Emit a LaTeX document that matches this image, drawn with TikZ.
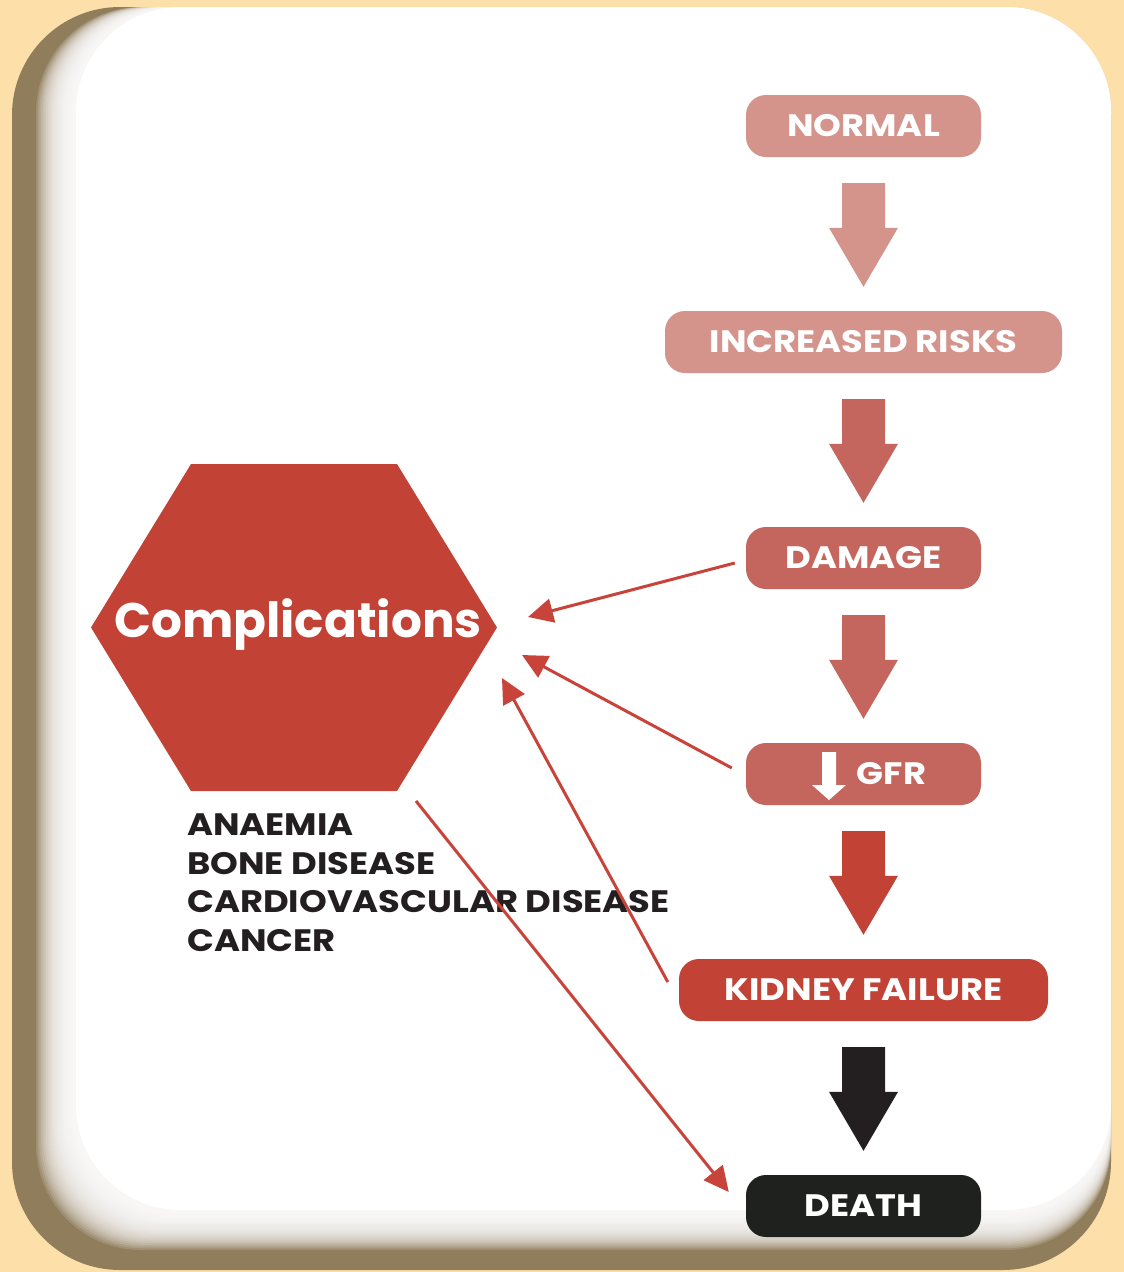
\documentclass[tikz,border=0pt]{standalone}
\usepackage{fontspec}
\setmainfont{Poppins}
\newfontfamily\widefont{Poppins}[FakeStretch=1.14]
\usetikzlibrary{arrows.meta,calc}
\definecolor{peach}{HTML}{FDE0A9}
\definecolor{shadowbrown}{HTML}{907D5B}
\definecolor{cA}{HTML}{D4938B}
\definecolor{cB}{HTML}{C4665D}
\definecolor{cRed}{HTML}{C24236}
\definecolor{cBlack}{HTML}{1F211E}
\definecolor{cArrowBlack}{HTML}{231F20}
\definecolor{cConn}{HTML}{C8443A}
\definecolor{cText}{HTML}{231F20}
\tikzset{
  stagebox/.style={rounded corners=20, minimum height=62, text=white,
    font=\widefont\bfseries\fontsize{31}{31}\selectfont, inner sep=0, anchor=center},
  conn/.style={cConn, line width=3, -{Triangle[length=25pt,width=24pt]}},
}
\newcommand\bigarrow[3]{%
  \fill[#3] ($(#1.south)+(-21.5,26)$) -- ($(#1.south)+(21.5,26)$) --
    ($(#2.north)+(21.5,-83)$) -- ($(#2.north)+(34.5,-83)$) --
    ($(#2.north)+(0,-24)$) -- ($(#2.north)+(-34.5,-83)$) --
    ($(#2.north)+(-21.5,-83)$) -- cycle;}
\begin{document}
\begin{tikzpicture}[x=1pt,y=-1pt]
\useasboundingbox (0,0) rectangle (1124,1272);
\fill[peach] (0,0) rectangle (1124,1272);
\fill[shadowbrown, rounded corners=108] (12,7) rectangle (1111,1270);
\foreach \i in {0,...,21}{
  \fill[white, opacity=0.14, rounded corners=105] ({36+1.7*\i},7) rectangle (1111,{1250-1.7*\i});
}
\fill[white, rounded corners=105] (76,7) rectangle (1111,1210);

% stage boxes
\node[stagebox, fill=cA, minimum width=235] (normal) at (863.5,126) {NORMAL};
\node[stagebox, fill=cA, minimum width=397] (risk) at (863.5,342) {INCREASED RISKS};
\node[stagebox, fill=cB, minimum width=235] (damage) at (863.5,558) {DAMAGE};
\node[stagebox, fill=cB, minimum width=235] (gfr) at (863.5,774) {\hspace*{56pt}GFR};
\node[stagebox, fill=cRed, minimum width=369] (kidney) at (863.5,990) {KIDNEY FAILURE};
\node[stagebox, fill=cBlack, minimum width=235] (death) at (863.5,1206) {DEATH};

% down-arrow icon in GFR box
\fill[white] ($(gfr.center)+(-41.5,-22)$) -- ($(gfr.center)+(-27.5,-22)$) --
  ($(gfr.center)+(-27.5,11)$) -- ($(gfr.center)+(-17.5,11)$) --
  ($(gfr.center)+(-34.5,26)$) -- ($(gfr.center)+(-51.5,11)$) --
  ($(gfr.center)+(-41.5,11)$) -- cycle;

% block arrows
\bigarrow{normal}{risk}{cA}
\bigarrow{risk}{damage}{cB}
\bigarrow{damage}{gfr}{cB}
\bigarrow{gfr}{kidney}{cRed}
\bigarrow{kidney}{death}{cArrowBlack}

% hexagon
\fill[cRed] (191,464) -- (397,464) -- (497,627.5) -- (397,791) -- (191,791) -- (91,627.5) -- cycle;
\node[text=white, font=\bfseries\fontsize{48.5}{48.5}\selectfont, inner sep=0] (comp) at (298,625) {Complications};

% list
\node[anchor=north west, align=left, inner sep=0, text=cText,
  font=\widefont\bfseries\fontsize{31}{38.5}\selectfont] (list) at (187,814)
  {ANAEMIA\\BONE DISEASE\\CARDIOVASCULAR DISEASE\\CANCER};

% connectors
\coordinate (t1) at (528,617);
\coordinate (t2) at (522,655);
\coordinate (t3) at (502,678);
\coordinate (s4) at (416,801);
\draw[conn] ($(damage.west)+(-11,5)$) -- (t1);
\draw[conn] ($(gfr.west)+(-14,-6)$) -- (t2);
\draw[conn] ($(kidney.west)+(-11,-8)$) -- (t3);
\draw[conn] (s4) -- ($(death.west)+(-17,-14)$);
\end{tikzpicture}
\end{document}
